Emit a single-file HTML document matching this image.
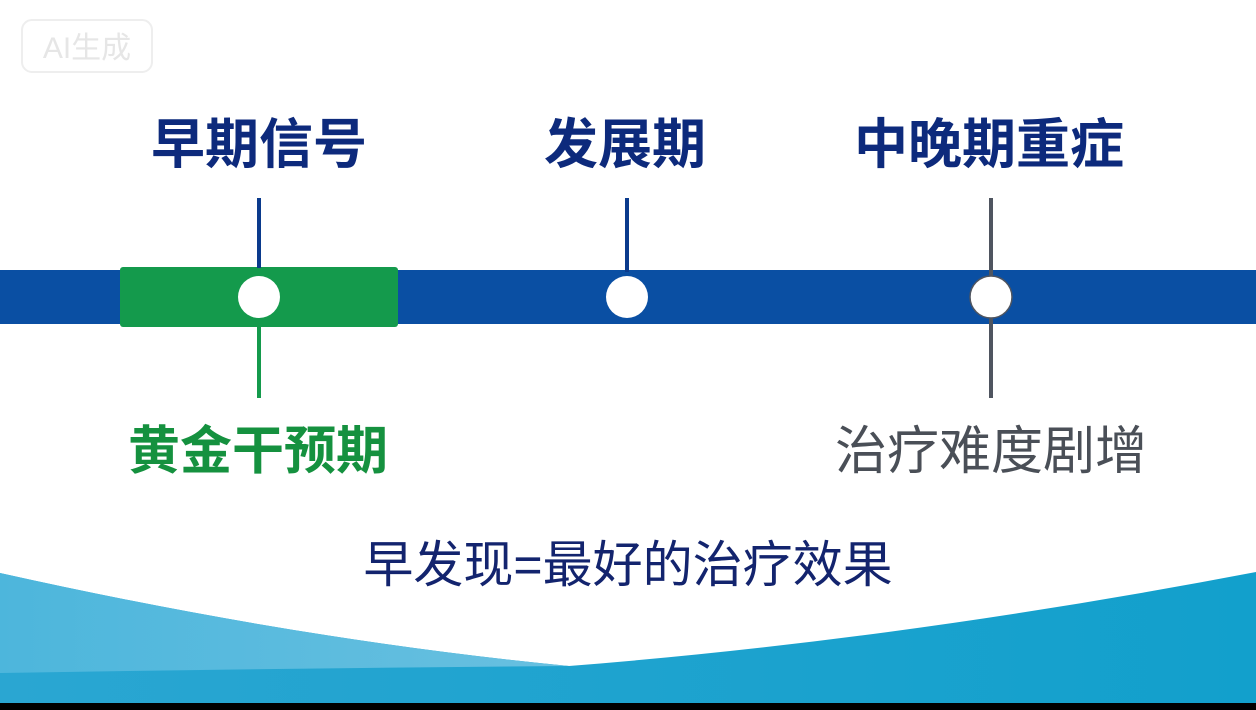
<!DOCTYPE html>
<html><head><meta charset="utf-8"><style>
html,body{margin:0;padding:0}
body{width:1256px;height:710px;position:relative;overflow:hidden;background:#fff;font-family:"Liberation Sans","Noto Sans CJK SC",sans-serif}
.t{position:absolute;white-space:nowrap;line-height:1;transform:translateX(-50%)}
</style></head><body>
<svg width="1256" height="710" style="position:absolute;left:0;top:0">
<defs>
<linearGradient id="g1" x1="0" y1="0" x2="1" y2="0"><stop offset="0" stop-color="#4db6dc"/><stop offset="1" stop-color="#68c0e0"/></linearGradient>
<linearGradient id="g2" x1="0" y1="0" x2="1" y2="0"><stop offset="0" stop-color="#2aa6d2"/><stop offset="1" stop-color="#12a0cc"/></linearGradient>
</defs>
<path d="M0 573 Q300 640 569 666 Q900 640 1256 572 L1256 710 L0 710 Z" fill="url(#g2)"/>
<path d="M0 573 Q300 640 569 666 Q300 668 0 673 Z" fill="url(#g1)"/>
<rect x="0" y="703" width="1256" height="7" fill="#000"/>
<rect x="22" y="20" width="130" height="52" rx="10" fill="none" stroke="#eee" stroke-width="2"/>
<text x="87" y="58" font-size="30" fill="#e6e6e6" text-anchor="middle" font-family="Liberation Sans,Noto Sans CJK SC,sans-serif">AI生成</text>
<rect x="0" y="270" width="1256" height="54" fill="#0a4fa3"/>
<rect x="120" y="267" width="278" height="60" rx="3" fill="#149a4c"/>
<line x1="259" y1="198" x2="259" y2="268" stroke="#0a3a8c" stroke-width="4"/>
<line x1="259" y1="326" x2="259" y2="398" stroke="#149a4c" stroke-width="4"/>
<line x1="627" y1="198" x2="627" y2="272" stroke="#0a3a8c" stroke-width="4"/>
<line x1="991" y1="198" x2="991" y2="398" stroke="#4f5560" stroke-width="4"/>
<circle cx="259" cy="297" r="21" fill="#fff"/>
<circle cx="627" cy="297" r="21" fill="#fff"/>
<circle cx="991" cy="297" r="21" fill="#fff" stroke="#4f5560" stroke-width="1.5"/>
</svg>
<div class="t" style="left:259px;top:118px;font-size:54px;font-weight:bold;color:#0d2a7c">早期信号</div>
<div class="t" style="left:625px;top:118px;font-size:54px;font-weight:bold;color:#0d2a7c">发展期</div>
<div class="t" style="left:989px;top:118px;font-size:54px;font-weight:bold;color:#0d2a7c">中晚期重症</div>
<div class="t" style="left:258px;top:426px;font-size:52px;font-weight:bold;color:#15913f">黄金干预期</div>
<div class="t" style="left:991px;top:426px;font-size:52px;color:#4a4f57">治疗难度剧增</div>
<div class="t" style="left:628px;top:540px;font-size:50px;color:#13246e">早发现=最好的治疗效果</div>
</body></html>
